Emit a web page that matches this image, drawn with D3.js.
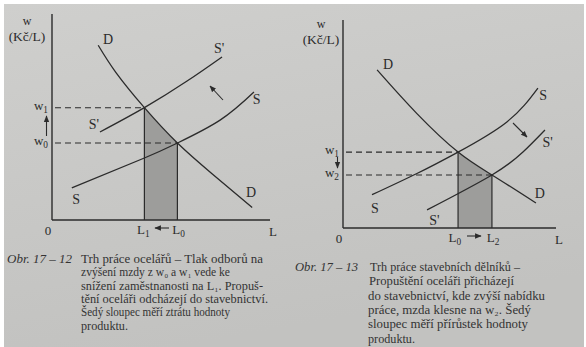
<!DOCTYPE html>
<html>
<head>
<meta charset="utf-8">
<script src="https://cdn.jsdelivr.net/npm/d3@7/dist/d3.min.js"></script>
<style>
  html, body { margin: 0; padding: 0; background: #ffffff; }
  svg { display: block; }
</style>
</head>
<body>
<svg id="page" width="586" height="347"></svg>
<script>
// ---- Left panel: steelworkers' labour market (L, w in index units 0..100) ----
const steelDemand      = [[21, 84], [29, 71], [42, 54], [57, 37], [73, 22], [91, 6]];
const steelSupply      = [[9, 15.4], [42, 29.8], [57, 37], [76.4, 48], [91.8, 61.5]];
const steelSupplyUnion = [[21.8, 42.3], [42, 54], [61.4, 66.8], [77.3, 78.4]];
const steelLabour      = [42, 57];   // L1, L0
const steelWages       = [37, 54];   // w0, w1

// ---- Right panel: construction workers' labour market ----
const buildDemand        = [[15.5, 76], [33.6, 55], [52.3, 36.5], [67.7, 25.5], [87.7, 12]];
const buildSupply        = [[13.2, 16], [33.6, 26.2], [52.3, 36.5], [74.5, 51], [88.6, 67.3]];
const buildSupplyShifted = [[38.2, 8.7], [67.7, 25.5], [81.8, 36.5], [91.8, 47.1]];
const buildLabour        = [52.3, 67.7]; // L0, L2
const buildWages         = [25.5, 36.5]; // w2, w1

// ---- Captions ----
const steelCaptionTag = "Obr. 17 – 12";
const steelCaption = [
  "Trh práce ocelářů – Tlak odborů na",
  "zvýšení mzdy z w₀ a w₁ vede ke",
  "snížení zaměstnanosti na L₁. Propuš-",
  "tění oceláři odcházejí do stavebnictví.",
  "Šedý sloupec měří ztrátu hodnoty",
  "produktu."
];
const buildCaptionTag = "Obr. 17 – 13";
const buildCaption = [
  "Trh práce stavebních dělníků –",
  "Propuštění oceláři přicházejí",
  "do stavebnictví, kde zvýší nabídku",
  "práce, mzda klesne na w₂. Šedý",
  "sloupec měří přírůstek hodnoty",
  "produktu."
];

const INK = "#2b2b2b";
const SERIF = "'Liberation Serif', 'DejaVu Serif', serif";

const svg = d3.select("#page");

// paper background
const defs = svg.append("defs");
const grad = defs.append("linearGradient").attr("id", "paper")
  .attr("x1", 0).attr("y1", 0).attr("x2", 0.3).attr("y2", 1);
grad.append("stop").attr("offset", 0).attr("stop-color", "#cfcfcd");
grad.append("stop").attr("offset", 1).attr("stop-color", "#c2c2c0");
svg.append("rect").attr("x", 4).attr("y", 4).attr("width", 580).attr("height", 343)
  .attr("fill", "url(#paper)");

// arrow marker
defs.append("marker").attr("id", "head")
  .attr("viewBox", "0 0 10 10").attr("refX", 9).attr("refY", 5)
  .attr("markerWidth", 6).attr("markerHeight", 6).attr("orient", "auto")
  .append("path").attr("d", "M0,1 L10,5 L0,9 Z").attr("fill", INK);

// letter with a lowered index, e.g. w with subscript 1
function indexed(sel, letter, idx, size) {
  sel.append("tspan").text(letter);
  sel.append("tspan").text(idx).attr("font-size", size * 0.72).attr("dy", size * 0.25);
}

function panel(cfg) {
  const g = svg.append("g");
  const x = d3.scaleLinear().domain([0, 100]).range(cfg.xRange);
  const y = d3.scaleLinear().domain([0, 100]).range(cfg.yRange);
  const line = d3.line().x(d => x(d[0])).y(d => y(d[1])).curve(d3.curveNatural);
  const area = d3.area().x(d => x(d[0])).y0(y(0)).y1(d => y(d[1])).curve(d3.curveNatural);

  // shaded column between the two employment levels, under the demand curve
  const clipId = cfg.id + "-clip";
  defs.append("clipPath").attr("id", clipId).append("rect")
    .attr("x", x(cfg.labour[0])).attr("y", 0)
    .attr("width", x(cfg.labour[1]) - x(cfg.labour[0])).attr("height", y(0));
  g.append("path").attr("d", area(cfg.demand)).attr("fill", "#9d9d9b")
    .attr("clip-path", `url(#${clipId})`);

  // axes
  g.append("line").attr("x1", x(0)).attr("x2", x(0)).attr("y1", cfg.axisTop).attr("y2", y(0))
    .attr("stroke", INK).attr("stroke-width", 1.4);
  g.append("line").attr("x1", x(0)).attr("x2", cfg.axisRight).attr("y1", y(0)).attr("y2", y(0))
    .attr("stroke", INK).attr("stroke-width", 1.4);

  // dashed wage guides and vertical employment lines
  cfg.eq.forEach(p => {
    g.append("line").attr("x1", x(0) + 3).attr("x2", x(p[0])).attr("y1", y(p[1])).attr("y2", y(p[1]))
      .attr("stroke", INK).attr("stroke-width", 1.1).attr("stroke-dasharray", "6,4");
    g.append("line").attr("x1", x(p[0])).attr("x2", x(p[0])).attr("y1", y(0)).attr("y2", y(p[1]))
      .attr("stroke", INK).attr("stroke-width", 1.2);
  });

  // curves
  [cfg.demand, cfg.supply, cfg.supply2].forEach(c => {
    g.append("path").attr("d", line(c)).attr("fill", "none")
      .attr("stroke", INK).attr("stroke-width", 1.3);
  });

  // curve labels
  cfg.labels.forEach(l => {
    g.append("text").attr("x", x(l[1])).attr("y", y(l[2])).text(l[0])
      .attr("font-family", SERIF).attr("font-size", 14).attr("fill", INK)
      .attr("text-anchor", "middle").attr("dominant-baseline", "central");
  });

  // axis titles
  g.append("text").attr("x", cfg.wTitle[0]).attr("y", cfg.wTitle[1]).text("w")
    .attr("font-family", SERIF).attr("font-size", 12).attr("fill", INK).attr("text-anchor", "middle");
  g.append("text").attr("x", cfg.wTitle[0]).attr("y", cfg.wTitle[1] + 16).text("(Kč/L)")
    .attr("font-family", SERIF).attr("font-size", 13.5).attr("fill", INK).attr("text-anchor", "middle");
  g.append("text").attr("x", x(0) - 4).attr("y", y(0) + 15).text("0")
    .attr("font-family", SERIF).attr("font-size", 13).attr("fill", INK).attr("text-anchor", "middle");
  g.append("text").attr("x", cfg.axisRight + 3).attr("y", y(0) + 16).text("L")
    .attr("font-family", SERIF).attr("font-size", 13).attr("fill", INK).attr("text-anchor", "middle");

  // wage labels
  cfg.wageLabels.forEach(l => {
    const t = g.append("text").attr("x", x(0) - 4).attr("y", y(l[1]) + 2)
      .attr("font-family", SERIF).attr("font-size", 13).attr("fill", INK).attr("text-anchor", "end");
    indexed(t, "w", l[0], 13);
  });
  // employment labels
  cfg.labourLabels.forEach(l => {
    const t = g.append("text").attr("x", x(l[1])).attr("y", y(0) + 14)
      .attr("font-family", SERIF).attr("font-size", 13).attr("fill", INK).attr("text-anchor", "middle");
    indexed(t, "L", l[0], 13);
  });

  // arrows
  cfg.arrows.forEach(a => {
    g.append("line").attr("x1", a[0]).attr("y1", a[1]).attr("x2", a[2]).attr("y2", a[3])
      .attr("stroke", INK).attr("stroke-width", 1.1).attr("marker-end", "url(#head)");
  });
  return g;
}

panel({
  id: "steel", xRange: [52, 272], yRange: [220, 12], axisTop: 14, axisRight: 270,
  demand: steelDemand, supply: steelSupply, supply2: steelSupplyUnion,
  labour: steelLabour,
  eq: [[steelLabour[0], steelWages[1]], [steelLabour[1], steelWages[0]]],
  labels: [["D", 25.5, 87], ["S'", 76, 82.5], ["S", 93, 58], ["S'", 19, 46],
           ["D", 90.5, 13], ["S", 11, 10]],
  wTitle: [27, 25],
  wageLabels: [["1", steelWages[1]], ["0", steelWages[0]]],
  labourLabels: [["1", steelLabour[0] - 0.5], ["0", steelLabour[1] + 0.5]],
  arrows: [[46.5, 136, 46.5, 116], [169, 228, 155, 228], [223, 100, 210, 86]]
});

panel({
  id: "build", xRange: [343, 563], yRange: [228, 20], axisTop: 20, axisRight: 556,
  demand: buildDemand, supply: buildSupply, supply2: buildSupplyShifted,
  labour: buildLabour,
  eq: [[buildLabour[0], buildWages[1]], [buildLabour[1], buildWages[0]]],
  labels: [["D", 20.5, 78.5], ["S", 91, 63.5], ["S'", 93, 41], ["D", 89.5, 16.5],
           ["S", 14.5, 9.5], ["S'", 41.5, 3.5]],
  wTitle: [321, 28],
  wageLabels: [["1", buildWages[1]], ["2", buildWages[0]]],
  labourLabels: [["0", buildLabour[0] - 1.5], ["2", buildLabour[1] + 0.5]],
  arrows: [[337.5, 157, 337.5, 168], [467, 236, 481, 236], [513, 123, 527, 137]]
});

// captions
function caption(tag, tagX, tagW, bodyX, baseline, step, lines, widths) {
  svg.append("text").attr("x", tagX).attr("y", baseline).text(tag)
    .attr("font-family", SERIF).attr("font-style", "italic").attr("font-size", 12.5)
    .attr("fill", "#333").attr("textLength", tagW).attr("lengthAdjust", "spacingAndGlyphs");
  lines.forEach((s, i) => {
    svg.append("text").attr("x", bodyX[i]).attr("y", baseline + i * step).text(s)
      .attr("font-family", SERIF).attr("font-size", 12.5).attr("fill", "#333")
      .attr("textLength", widths[i]).attr("lengthAdjust", "spacingAndGlyphs");
  });
}
caption(steelCaptionTag, 7, 65, [81, 81, 81, 81, 81, 81], 263, 13.3, steelCaption,
        [182, 149, 182, 187, 149, 47]);
caption(buildCaptionTag, 295, 63, [370, 369, 368, 368, 368, 368], 271, 14.3, buildCaption,
        [150, 145, 177, 163, 160, 47]);
</script>
</body>
</html>
